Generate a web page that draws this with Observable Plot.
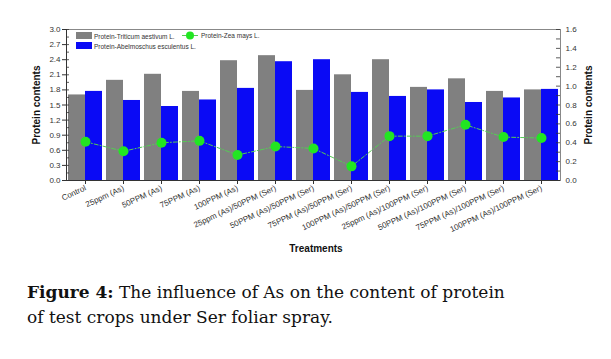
<!DOCTYPE html>
<html><head><meta charset="utf-8">
<script src="https://cdn.jsdelivr.net/npm/d3@7"></script>
<script src="https://cdn.jsdelivr.net/npm/@observablehq/plot@0.6"></script>
<style>
body{margin:0;background:#fff;width:611px;overflow:hidden}
#wrap{position:relative;width:611px;height:260px}
#cap{font-family:"DejaVu Serif",serif;font-size:17px;line-height:25px;color:#111;margin:20px 0 0 27px;white-space:nowrap}
</style></head><body>
<div id="wrap"></div>
<div id="cap"><b>Figure 4:</b> The influence of As on the content of protein<br>of test crops under Ser foliar spray.</div>
<script>
const categories = ["Control","25ppm (As)","50PPM (As)","75PPM (As)","100PPM (As)","25ppm (As)/50PPM (Ser)","50PPM (As)/50PPM (Ser)","75PPM (As)/50PPM (Ser)","100PPM (As)/50PPM (Ser)","25ppm (As)/100PPM (Ser)","50PPM (As)/100PPM (Ser)","75PPM (As)/100PPM (Ser)","100PPM (As)/100PPM (Ser)"];
const triticum = [1.70,1.99,2.11,1.77,2.38,2.48,1.79,2.10,2.40,1.85,2.02,1.77,1.80];
const abelmoschus = [1.77,1.59,1.47,1.60,1.83,2.36,2.40,1.75,1.67,1.80,1.55,1.64,1.81];
const zea = [0.41,0.31,0.40,0.42,0.27,0.36,0.34,0.15,0.47,0.47,0.59,0.46,0.45];
const leftTicks = [0,0.3,0.6,0.9,1.2,1.5,1.8,2.1,2.4,2.7,3.0];
const rightTicks = [0,0.2,0.4,0.6,0.8,1.0,1.2,1.4,1.6];
const legendLabels = ["Protein-Triticum aestivum L.","Protein-Abelmoschus esculentus L.","Protein-Zea mays L."];

const k = 3.0/1.6;
const data = categories.map((c,i)=>({cat:c, t:triticum[i], a:abelmoschus[i], z:zea[i]}));
const minorLeft = d3.range(0,3.0001,0.15);
const minorRight = d3.range(0,1.6001,0.1).map(v=>v*k);

const chart = Plot.plot({
  width:611, height:260,
  marginLeft:66, marginRight:51, marginTop:29, marginBottom:80,
  style:{fontFamily:"'Liberation Sans',Arial,sans-serif", fontSize:"8px", color:"#333", background:"#fff"},
  x:{domain:categories, padding:0},
  y:{domain:[0,3.0]},
  marks:[
    Plot.barY(data,{x:"cat", y:"t", fill:"#808080", insetLeft:2, insetRight:19}),
    Plot.barY(data,{x:"cat", y:"a", fill:"#0a0af5", insetLeft:19, insetRight:2}),
    Plot.line(data,{x:"cat", y:d=>d.z*k, stroke:"#55cc55", strokeWidth:1, strokeDasharray:"4,2,1,2"}),
    Plot.dot(data,{x:"cat", y:d=>d.z*k, r:5, fill:"#22e622", stroke:"none"}),
    Plot.frame({stroke:"#888", strokeWidth:1}),
    Plot.axisY(leftTicks,{anchor:"left", tickSize:4, tickFormat:d=>d.toFixed(1), label:null, tickPadding:2}),
    Plot.tickY(minorLeft,{y:d=>d, stroke:"#333", strokeWidth:0.8, insetRight:491}),
    Plot.axisY(rightTicks.map(v=>v*k),{anchor:"right", tickSize:0, tickFormat:d=>(d/k).toFixed(1), label:null, tickPadding:5}),
    Plot.tickY(minorRight,{y:d=>d, stroke:"#333", strokeWidth:0.8, insetLeft:490}),
    Plot.axisX({tickRotate:-25, tickSize:4, label:null, tickPadding:3}),
    Plot.ruleY([0],{stroke:"#333"}),
    Plot.ruleX([categories[0]],{stroke:"#333", dx:-19, y1:0, y2:3.0})
  ]
});
document.getElementById("wrap").appendChild(chart);

const svg = d3.select(chart);
svg.append("text").attr("transform","translate(40,105) rotate(-90)").attr("text-anchor","middle")
  .attr("font-weight","bold").attr("font-size","10px").attr("fill","#111").text("Protein contents");
svg.append("text").attr("transform","translate(592,105) rotate(-90)").attr("text-anchor","middle")
  .attr("font-weight","bold").attr("font-size","10px").attr("fill","#111").text("Protein contents");
svg.append("text").attr("x",316).attr("y",252).attr("text-anchor","middle")
  .attr("font-weight","bold").attr("font-size","10px").attr("fill","#111").text("Treatments");

const lg = svg.append("g").attr("font-size","6.5px").attr("fill","#333").attr("text-anchor","start");
lg.append("rect").attr("x",76).attr("y",32).attr("width",16).attr("height",7).attr("fill","#808080");
lg.append("text").attr("x",94).attr("y",38.5).attr("text-anchor","start").text(legendLabels[0]);
lg.append("rect").attr("x",76).attr("y",42).attr("width",16).attr("height",7).attr("fill","#0a0af5");
lg.append("text").attr("x",94).attr("y",48.5).attr("text-anchor","start").text(legendLabels[1]);
lg.append("line").attr("x1",182).attr("x2",198).attr("y1",35.5).attr("y2",35.5).attr("stroke","#55cc55");
lg.append("circle").attr("cx",190).attr("cy",35.5).attr("r",4).attr("fill","#22e622");
lg.append("text").attr("x",201).attr("y",38).attr("text-anchor","start").text(legendLabels[2]);
</script>
</body></html>
